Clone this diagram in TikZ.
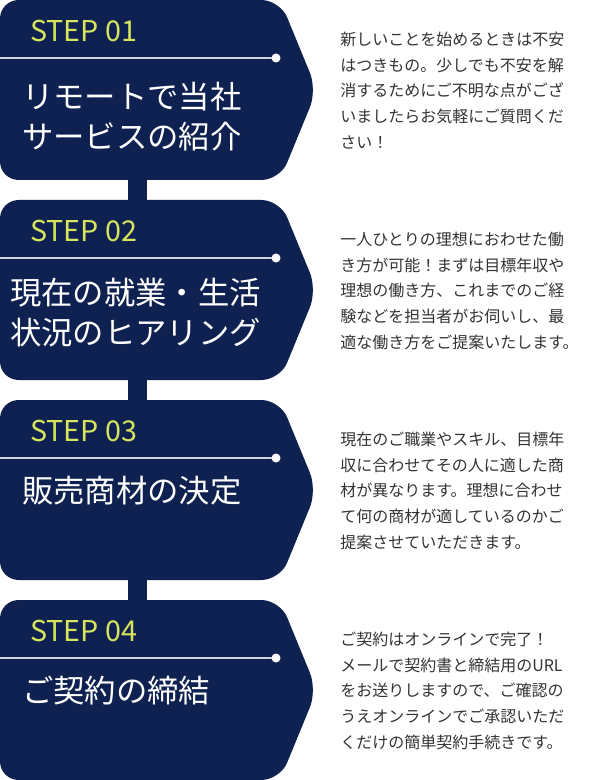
\documentclass[tikz,border=0pt]{standalone}
\usepackage{fontspec}
\setmainfont{Noto Sans CJK JP}
\definecolor{navy}{HTML}{0F2150}
\definecolor{stepyellow}{HTML}{D8E45C}
\definecolor{bodygray}{HTML}{333333}
\tikzset{
  stepshape/.style={fill=navy, rounded corners=14pt},
  steplabel/.style={anchor=west, text=stepyellow, font=\fontsize{21.5}{24}\selectfont, inner sep=0pt},
  titletext/.style={anchor=west, text=white, font=\fontsize{23.5}{30}\selectfont, align=left, inner sep=0pt},
  bodytext/.style={anchor=north west, text=bodygray, font=\fontsize{12}{19.2}\selectfont, align=left, inner sep=0pt}
}
\begin{document}
\begin{tikzpicture}[x=0.75pt, y=-0.75pt]
    \useasboundingbox (0,0) rectangle (600,780);

    % connectors between the steps
    \foreach \y in {180,380,580} {
        \fill[navy] (128,\y-2) rectangle (147,\y+22);
    }

    % the four step boxes
    \foreach \y [count=\i from 1] in {0,200,400,600} {
        \fill[stepshape] (0,\y) -- (280,\y) -- (317,\y+90) -- (280,\y+180) -- (0,\y+180) -- cycle;
        \node[steplabel] (step\i) at (30,\y+31) {STEP 0\i};
        \coordinate (dot\i) at (276,\y+58);
        \draw[white!80!navy, line width=0.8pt] (0,\y+58) -- (dot\i);
        \fill[white] (dot\i) circle (4.5);
    }

    % titles
    \node[titletext] (title1) at (22,117) {リモートで当社\\サービスの紹介};
    \node[titletext] (title2) at (10,313) {現在の就業・生活\\状況のヒアリング};
    \node[titletext] (title3) at (22,491) {販売商材の決定};
    \node[titletext] (title4) at (22,691) {ご契約の締結};

    % descriptions
    \node[bodytext] (text1) at (340,32) {新しいことを始めるときは不安\\はつきもの。少しでも不安を解\\消するためにご不明な点がござ\\いましたらお気軽にご質問くだ\\さい！};
    \node[bodytext] (text2) at (340,232) {一人ひとりの理想におわせた働\\き方が可能！まずは目標年収や\\理想の働き方、これまでのご経\\験などを担当者がお伺いし、最\\適な働き方をご提案いたします。};
    \node[bodytext] (text3) at (340,432) {現在のご職業やスキル、目標年\\収に合わせてその人に適した商\\材が異なります。理想に合わせ\\て何の商材が適しているのかご\\提案させていただきます。};
    \node[bodytext] (text4) at (340,632) {ご契約はオンラインで完了！\\メールで契約書と締結用のURL\\をお送りしますので、ご確認の\\うえオンラインでご承認いただ\\くだけの簡単契約手続きです。};
\end{tikzpicture}
\end{document}
